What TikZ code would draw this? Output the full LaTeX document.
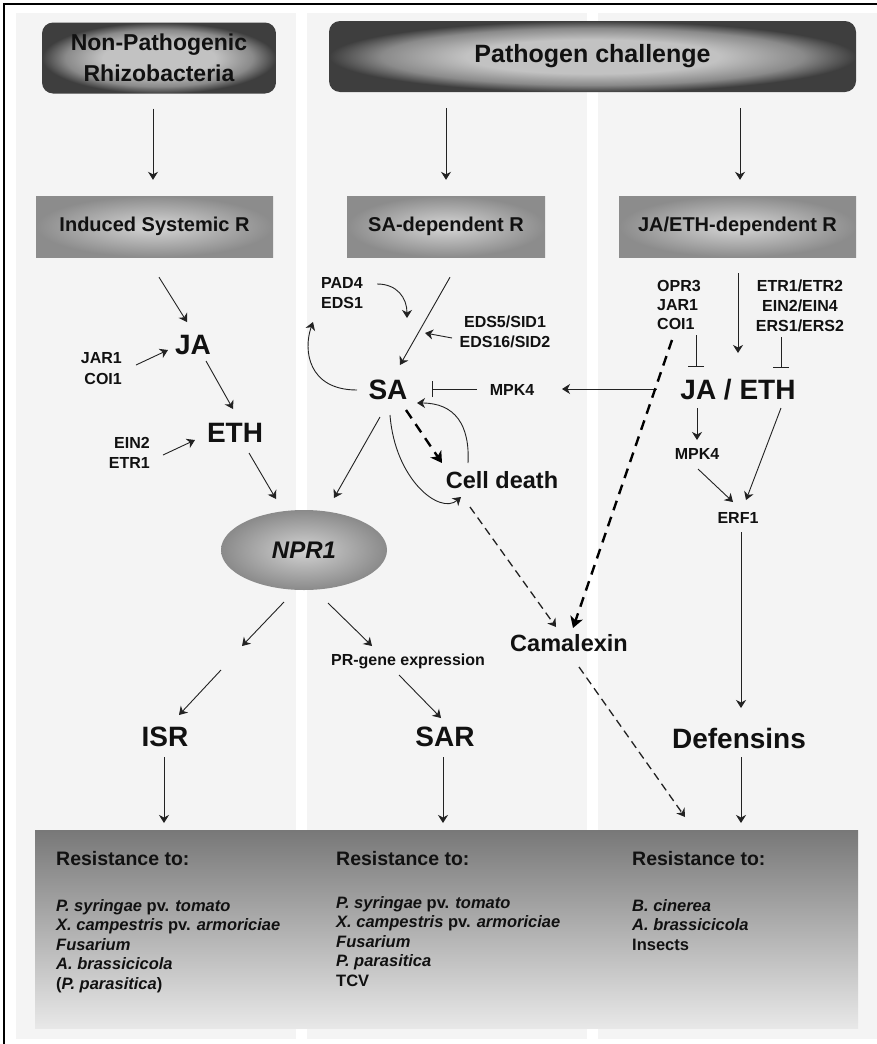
\documentclass[tikz,border=0pt]{standalone}
\usepackage{fontspec}
\setmainfont{Liberation Sans}
\usetikzlibrary{arrows.meta,calc,shapes.geometric}

\definecolor{colbg}{HTML}{F4F4F4}
\definecolor{ink}{HTML}{111111}
\definecolor{wire}{HTML}{222222}
\definecolor{topin}{HTML}{C2C2C2}
\definecolor{topmid}{HTML}{8A8A8A}
\definecolor{topout}{HTML}{3E3E3E}
\definecolor{midin}{HTML}{D6D6D6}
\definecolor{midout}{HTML}{8C8C8C}
\definecolor{npin}{HTML}{D2D2D2}
\definecolor{npout}{HTML}{8A8A8A}
\definecolor{restop}{HTML}{787878}
\definecolor{resbot}{HTML}{E8E8E8}

% soft radial fill for the two header boxes: light plateau, dark rim
\pgfdeclareradialshading{hdrshade}{\pgfpoint{0bp}{0bp}}{%
  color(0bp)=(topin); color(12bp)=(topin); color(20bp)=(topmid);
  color(25bp)=(topout); color(50bp)=(topout)}

\begin{document}
\begin{tikzpicture}[x=1pt,y=-1pt,
  every node/.style={inner sep=0pt, text=ink},
  lab/.style={font=\fontsize{16}{20}\selectfont\bfseries, align=center},
  big/.style={font=\fontsize{28}{30}\selectfont\bfseries},
  mid/.style={font=\fontsize{23.5}{26}\selectfont\bfseries},
  topbox/.style={rounded corners=11pt, shade, shading=hdrshade,
                 align=center, minimum height=71pt},
  midbox/.style={inner color=midin, outer color=midout, minimum width=237pt,
                 minimum height=61pt, font=\fontsize{20}{22}\selectfont\bfseries},
  restitle/.style={font=\fontsize{19.5}{22}\selectfont\bfseries, anchor=base west},
  resline/.style={font=\fontsize{16.5}{19.5}\selectfont\bfseries, anchor=base west},
  arr/.style={draw=wire, line width=0.9pt, -{Stealth[length=8pt,width=10pt,inset=2.5pt]}},
  inh/.style={draw=wire, line width=0.9pt, -{Bar[width=16pt,line width=1pt]}},
  dsh/.style={arr, line width=1.3pt, dash pattern=on 8pt off 5pt},
  dshk/.style={draw=black, line width=2.4pt, dash pattern=on 10pt off 7pt,
               -{Stealth[length=11pt,width=13pt,inset=3pt]}}
]
% page and frame
\useasboundingbox (0,0) rectangle (877,1044);
\fill[white] (0,0) rectangle (877,1044);
\fill[colbg] (16,13) rectangle (296,1039);
\fill[colbg] (307,13) rectangle (587,1039);
\fill[colbg] (598,13) rectangle (877,1039);
\draw[line width=1.3pt] (4,1044) -- (4,4) -- (877,4);

% headers
\node[topbox, minimum width=234pt, font=\fontsize{23}{31}\selectfont\bfseries]
  (np) at (159,58) {Non-Pathogenic\\Rhizobacteria};
\node[topbox, minimum width=527pt, font=\fontsize{25}{28}\selectfont\bfseries]
  (pc) at (592.5,56.5) {Pathogen challenge};

\node[midbox] (isrbox) at (154.5,226.5) {Induced Systemic R};
\node[midbox, minimum width=198pt] (sabox) at (446,226.5) {SA-dependent R};
\node[midbox] (jebox) at (737.5,226.5) {JA/ETH-dependent R};

% left column
\node[big] (JA) at (193,345) {JA};
\node[big] (ETH) at (235,433) {ETH};
\node[lab, align=right, anchor=east, font=\fontsize{16}{21}\selectfont\bfseries]
  (jarcoi) at (122,368.5) {JAR1\\COI1};
\node[lab, align=right, anchor=east] (einetr) at (150,453) {EIN2\\ETR1};
\node[ellipse, minimum width=166pt, minimum height=80pt, inner color=npin,
      outer color=npout, font=\fontsize{24}{26}\selectfont\bfseries\itshape]
  (npr1) at (304,550) {NPR1};
\node[big] (ISR) at (165,737) {ISR};

% middle column
\node[big] (SA) at (388,390) {SA};
\node[lab, align=left, anchor=west] (pad) at (321,293) {PAD4\\EDS1};
\node[lab] (eds) at (505,332) {EDS5/SID1\\EDS16/SID2};
\node[lab] (mpkL) at (512,390) {MPK4};
\node[mid] (celldeath) at (502,480) {Cell death};
\node[mid] (camalexin) at (569,643) {Camalexin};
\node[font=\fontsize{16}{18}\selectfont\bfseries] (prgene) at (408,661) {PR-gene expression};
\node[big] (SAR) at (445,737) {SAR};

% right column
\node[lab, align=left, anchor=west, font=\fontsize{16}{19}\selectfont\bfseries]
  (oprjar) at (657,305) {OPR3\\JAR1\\COI1};
\node[lab] (etrein) at (800,306) {ETR1/ETR2\\EIN2/EIN4\\ERS1/ERS2};
\node[big] (JAETH) at (738,390) {JA / ETH};
\node[lab] (mpkR) at (697,454) {MPK4};
\node[lab] (erf) at (738,518) {ERF1};
\node[big] (def) at (739,738) {Defensins};

% resistance panel
\node[shade, top color=restop, bottom color=resbot, minimum width=823pt,
      minimum height=198pt, anchor=north west] (resbox) at (35,830) {};
\node[restitle] (rt1) at (56,865) {Resistance to:};
\node[restitle] (rt2) at (336,865) {Resistance to:};
\node[restitle] (rt3) at (632,865) {Resistance to:};

\node[resline] (a1) at (56,911) {\textit{P. syringae} pv. \textit{tomato}};
\node[resline] (a2) at (56,930.5) {\textit{X. campestris} pv. \textit{armoriciae}};
\node[resline] (a3) at (56,950) {\textit{Fusarium}};
\node[resline] (a4) at (56,969.5) {\textit{A. brassicicola}};
\node[resline] (a5) at (56,989) {(\textit{P. parasitica})};

\node[resline] (b1) at (336,908) {\textit{P. syringae} pv. \textit{tomato}};
\node[resline] (b2) at (336,927.5) {\textit{X. campestris} pv. \textit{armoriciae}};
\node[resline] (b3) at (336,947) {\textit{Fusarium}};
\node[resline] (b4) at (336,966.5) {\textit{P. parasitica}};
\node[resline] (b5) at (336,986) {TCV};

\node[resline] (c1) at (632,911) {\textit{B. cinerea}};
\node[resline] (c2) at (632,930.5) {\textit{A. brassicicola}};
\node[resline] (c3) at (632,950) {Insects};

% header arrows
\draw[arr] ($(np.south)+(-6,15)$) -- ($(isrbox.north)+(-1.5,-16)$);
\draw[arr] ($(pc.south)+(-146.5,16)$) -- ($(sabox.north)+(0,-16)$);
\draw[arr] ($(pc.south)+(147.5,16)$) -- ($(jebox.north)+(2.5,-16)$);

% ISR branch
\draw[arr] ($(isrbox.south)+(4.5,20)$) -- ($(JA)+(-6,-23)$);
\draw[arr] ($(jarcoi.east)+(14,-3.5)$) -- ($(JA)+(-25,5)$);
\draw[arr] ($(JA)+(13,16)$) -- ($(ETH)+(-2,-24)$);
\draw[arr] ($(einetr.east)+(13,2)$) -- ($(ETH)+(-40,7)$);
\draw[arr] ($(ETH)+(14,20)$) -- ($(npr1)+(-28,-51)$);
\draw[arr] ($(npr1)+(-20,52)$) -- ($(ISR)+(77,-91)$);
\draw[arr] ($(ISR)+(56,-67)$) -- ($(ISR)+(14,-22)$);
\draw[arr] ($(npr1)+(24,53)$) -- ($(prgene)+(-36,-15)$);
\draw[arr] ($(prgene)+(-9,14)$) -- ($(SAR)+(-4,-19)$);
\draw[arr] ($(ISR)+(-1,20)$) -- ($(resbox.north west)+(129,-7)$);
\draw[arr] ($(SAR)+(-2,20)$) -- ($(resbox.north west)+(408,-7)$);
\draw[arr] ($(def)+(2,19)$) -- ($(resbox.north west)+(706,-7)$);

% SA branch
\draw[arr] ($(sabox.south)+(4,20)$) -- ($(SA)+(12,-25)$);
\draw[arr] ($(pad.east)+(14,-9)$) .. controls ($(pad.east)+(34,-9)$) and ($(SA)+(19,-92)$) .. ($(SA)+(19,-72)$);
\draw[arr] ($(eds)+(-53,6)$) -- ($(SA)+(37,-57)$);
\draw[arr] ($(SA)+(-31,0)$) .. controls ($(SA)+(-80,0)$) and ($(SA)+(-85,-40)$) .. ($(SA)+(-75,-68)$);
\draw[inh] ($(mpkL)+(-35,-1)$) -- ($(SA)+(44,-1)$);
\draw[arr] ($(JAETH)+(-81,-1)$) -- ($(mpkL)+(50,-1)$);
\draw[arr] ($(SA)+(-8,27)$) -- ($(npr1)+(30,-52)$);
\draw[dshk] ($(SA)+(18,20)$) -- ($(celldeath)+(-60,-17)$);
\draw[arr] ($(celldeath)+(-34,-17)$) .. controls ($(celldeath)+(-32,-55)$) and ($(SA)+(67,13)$) .. ($(SA)+(29,13)$);
\draw[arr] ($(SA)+(2,25)$) .. controls ($(SA)+(7,90)$) and ($(celldeath)+(-62,35)$) .. ($(celldeath)+(-41,17)$);
\draw[dsh] ($(celldeath)+(-32,27)$) -- ($(camalexin)+(-13,-16)$);
\draw[dsh] ($(camalexin)+(10,24)$) -- ($(resbox.north west)+(650,-13)$);

% JA/ETH branch
\draw[dshk] ($(oprjar.west)+(15,35)$) -- ($(camalexin)+(4,-15)$);
\draw[inh] ($(oprjar.west)+(39,30)$) -- ($(JAETH)+(-42,-23)$);
\draw[arr] ($(jebox.south)+(0.5,16)$) -- ($(JAETH)+(0,-37)$);
\draw[inh] ($(etrein)+(-19,31)$) -- ($(JAETH)+(43,-22)$);
\draw[arr] ($(JAETH)+(-41,18)$) -- ($(mpkR)+(0,-14)$);
\draw[arr] ($(JAETH)+(43,18)$) -- ($(erf)+(8,-18)$);
\draw[arr] ($(mpkR)+(1,15)$) -- ($(erf)+(-5,-16)$);
\draw[arr] ($(erf)+(3,14)$) -- ($(def)+(2,-30)$);
\end{tikzpicture}
\end{document}
